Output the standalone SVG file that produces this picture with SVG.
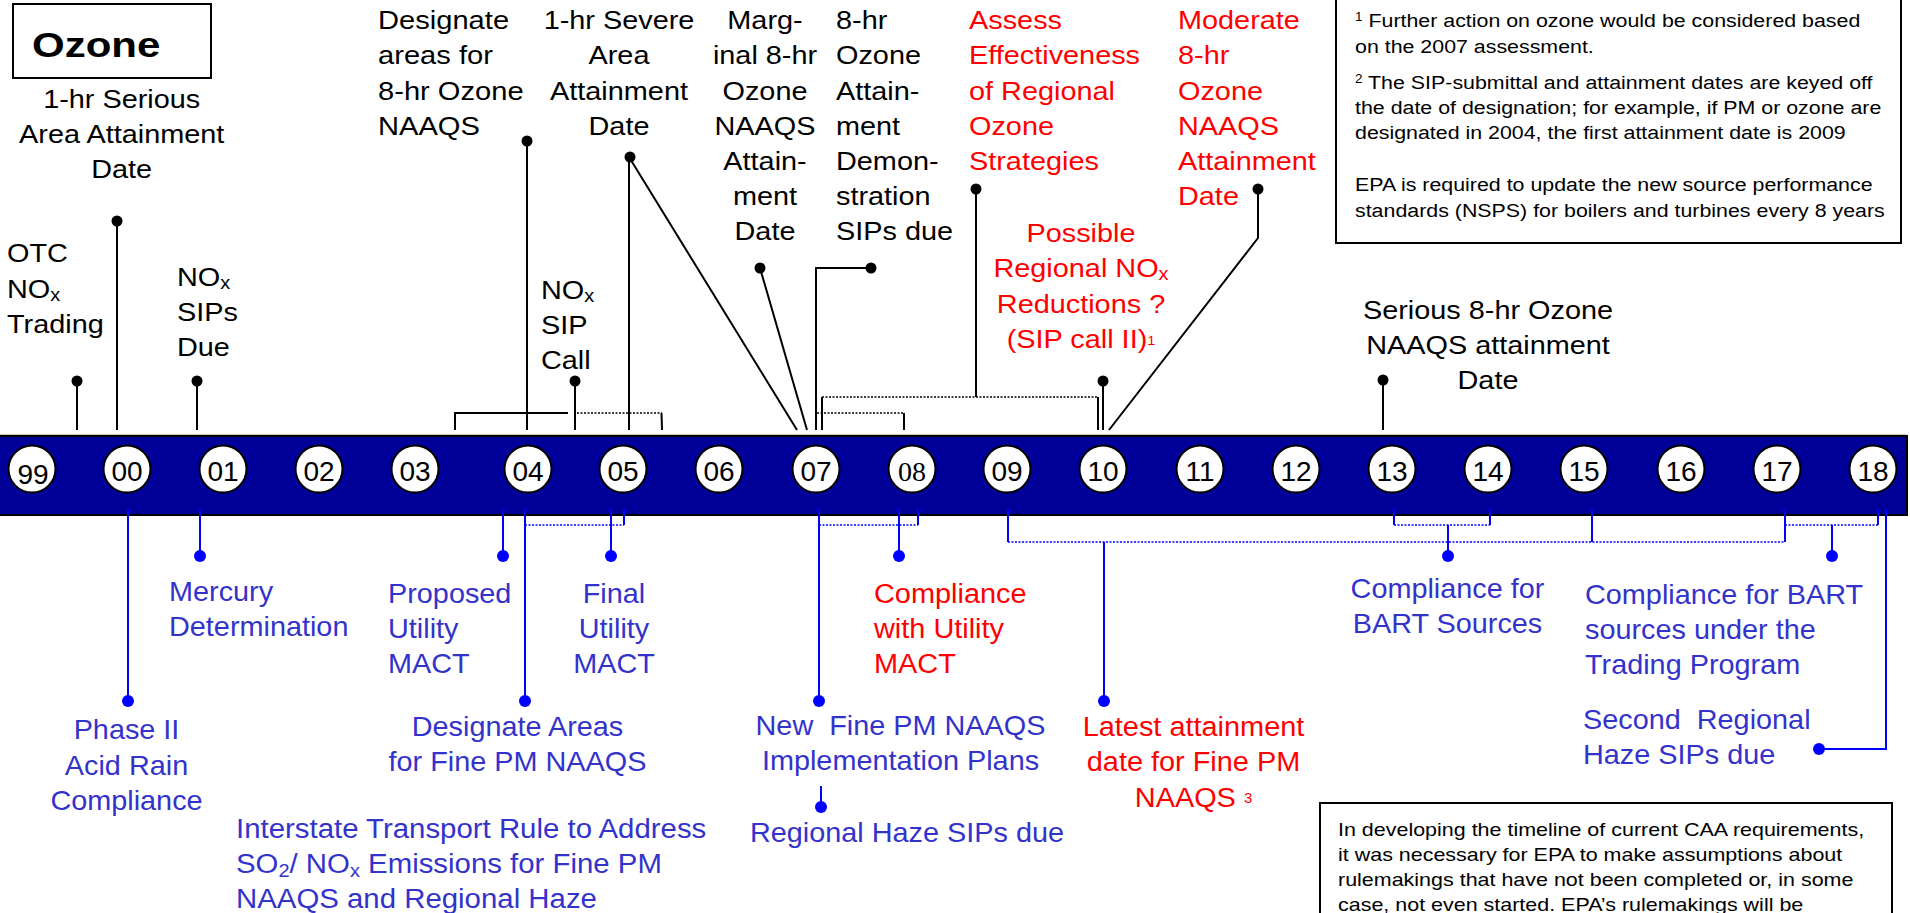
<svg xmlns="http://www.w3.org/2000/svg" width="1910" height="913" viewBox="0 0 1910 913">
<style>
text{font-family:"Liberation Sans",Arial,Helvetica,sans-serif}
.k{fill:#000;font-size:26px}
.r{fill:#f00;font-size:26px}
.rb{fill:#f00;font-size:27px}
.b{fill:#33c;font-size:28px}
.n{fill:#000;font-size:19px}
.yr{fill:#000;font-size:28px;text-anchor:middle}
.mid{text-anchor:middle}
.ln{stroke:#000;stroke-width:2;fill:none}
.dl{stroke:#000;stroke-width:1.5;stroke-dasharray:2 1.5;fill:none}
.bl{stroke:#00f;stroke-width:2;fill:none}
.bd{stroke:#00f;stroke-width:1.5;stroke-dasharray:2 1.5;fill:none}
.kd{fill:#000}
.bdot{fill:#00f}
.yc{fill:#fff;stroke:#000;stroke-width:2}
.box{fill:#fff;stroke:#000;stroke-width:2}
</style>
<rect width="1910" height="913" fill="#fff"/>

<!-- title -->
<g id="title">
<rect class="box" x="13" y="4" width="198" height="74"/>
<text x="0" y="0" transform="translate(32,57.3) scale(1.2,1)" style="font-size:35px;font-weight:bold;fill:#000">Ozone</text>
</g>

<!-- notes -->
<g id="note-top">
<rect class="box" x="1336" y="-5" width="565" height="248"/>
<text class="n" transform="translate(1355,26.7) scale(1.125,1)"><tspan x="0" y="0"><tspan font-size="12" dy="-6">1</tspan><tspan dy="6"> Further action on ozone would be considered based</tspan></tspan><tspan x="0" y="26">on the 2007 assessment.</tspan><tspan x="0" y="62.6"><tspan font-size="12" dy="-6">2</tspan><tspan dy="6"> The SIP-submittal and attainment dates are keyed off</tspan></tspan><tspan x="0" y="87.6">the date of designation; for example, if PM or ozone are</tspan><tspan x="0" y="112.6">designated in 2004, the first attainment date is 2009</tspan><tspan x="0" y="164">EPA is required to update the new source performance</tspan><tspan x="0" y="190">standards (NSPS) for boilers and turbines every 8 years</tspan></text>
</g>
<g id="note-bottom">
<rect class="box" x="1320" y="803" width="572" height="120"/>
<text class="n" transform="translate(1338,835.5) scale(1.13,1)"><tspan x="0" y="0">In developing the timeline of current CAA requirements,</tspan><tspan x="0" y="25.5">it was necessary for EPA to make assumptions about</tspan><tspan x="0" y="51">rulemakings that have not been completed or, in some</tspan><tspan x="0" y="75.5">case, not even started.  EPA’s rulemakings will be</tspan></text>
</g>

<!-- timeline bar -->
<g id="timeline">
<line x1="0" y1="434.5" x2="1907" y2="434.5" stroke="#c8c8c8" stroke-width="1"/>
<rect x="-2" y="436" width="1909" height="79" fill="#000099" stroke="#000" stroke-width="2"/>
<g id="y99"><circle class="yc" cx="32" cy="469" r="23.5"/><text class="yr" x="33" y="484">99</text></g>
<g id="y00"><circle class="yc" cx="127" cy="469" r="23.5"/><text class="yr" x="127" y="481">00</text></g>
<g id="y01"><circle class="yc" cx="223" cy="469" r="23.5"/><text class="yr" x="223" y="481">01</text></g>
<g id="y02"><circle class="yc" cx="319" cy="469" r="23.5"/><text class="yr" x="319" y="481">02</text></g>
<g id="y03"><circle class="yc" cx="415" cy="469" r="23.5"/><text class="yr" x="415" y="481">03</text></g>
<g id="y04"><circle class="yc" cx="528" cy="469" r="23.5"/><text class="yr" x="528" y="481">04</text></g>
<g id="y05"><circle class="yc" cx="623" cy="469" r="23.5"/><text class="yr" x="623" y="481">05</text></g>
<g id="y06"><circle class="yc" cx="719" cy="469" r="23.5"/><text class="yr" x="719" y="481">06</text></g>
<g id="y07"><circle class="yc" cx="816" cy="469" r="23.5"/><text class="yr" x="816" y="481">07</text></g>
<g id="y08"><circle class="yc" cx="912" cy="469" r="23.5"/><text class="yr" x="912" y="481" style="font-family:'Liberation Serif',serif">08</text></g>
<g id="y09"><circle class="yc" cx="1007" cy="469" r="23.5"/><text class="yr" x="1007" y="481">09</text></g>
<g id="y10"><circle class="yc" cx="1103" cy="469" r="23.5"/><text class="yr" x="1103" y="481">10</text></g>
<g id="y11"><circle class="yc" cx="1200" cy="469" r="23.5"/><text class="yr" x="1200" y="481">11</text></g>
<g id="y12"><circle class="yc" cx="1296" cy="469" r="23.5"/><text class="yr" x="1296" y="481">12</text></g>
<g id="y13"><circle class="yc" cx="1392" cy="469" r="23.5"/><text class="yr" x="1392" y="481">13</text></g>
<g id="y14"><circle class="yc" cx="1488" cy="469" r="23.5"/><text class="yr" x="1488" y="481">14</text></g>
<g id="y15"><circle class="yc" cx="1584" cy="469" r="23.5"/><text class="yr" x="1584" y="481">15</text></g>
<g id="y16"><circle class="yc" cx="1681" cy="469" r="23.5"/><text class="yr" x="1681" y="481">16</text></g>
<g id="y17"><circle class="yc" cx="1777" cy="469" r="23.5"/><text class="yr" x="1777" y="481">17</text></g>
<g id="y18"><circle class="yc" cx="1873" cy="469" r="23.5"/><text class="yr" x="1873" y="481">18</text></g>
</g>

<!-- connectors -->
<g id="connectors">
<!-- black, above bar -->
<path class="ln" d="M77 381V430M117 221V430M197 381V430M527 141V430M575 381V430M629 157V430M629 157L797 430M760 268L807 430M871 268H816V430M976 189V397M1103 381V430M1258 189V238L1109 430M1383 380V430"/>
<path class="ln" d="M455 430V413H568"/>
<path class="dl" d="M577 413H662"/>
<path class="ln" d="M661.5 413L662 430"/>
<path class="dl" d="M817 413H904"/>
<path class="ln" d="M904 413V430"/>
<path class="dl" d="M822 397H1098"/>
<path class="ln" d="M822 397V430M1098 397V430"/>
<g class="kd">
<circle cx="77" cy="381" r="5.5"/><circle cx="117" cy="221" r="5.5"/><circle cx="197" cy="381" r="5.5"/>
<circle cx="527" cy="141" r="5.5"/><circle cx="575" cy="381" r="5.5"/><circle cx="630" cy="157" r="5.5"/>
<circle cx="760" cy="268" r="5.5"/><circle cx="871" cy="268" r="5.5"/><circle cx="976" cy="189" r="5.5"/>
<circle cx="1103" cy="381" r="5.5"/><circle cx="1258" cy="189" r="5.5"/><circle cx="1383" cy="380" r="5.5"/>
</g>
<!-- blue, below bar -->
<path class="bl" d="M128 509V701M200 509V556M503 509V556M525 509V701M624 509V525M611 509V556M819 509V701M918 509V525M899 509V556M821 786V807M1008 509V542M1592 509V542M1785 509V542M1104 542V701M1394 509V525M1490 509V525M1448 525V556M1878 509V525M1832 525V556M1886 509V749H1819"/>
<path class="bd" d="M525 525H624M819 525H918M1008 542H1785M1394 525H1490M1785 525H1879"/>
<g class="bdot">
<circle cx="128" cy="701" r="6"/><circle cx="200" cy="556" r="6"/><circle cx="503" cy="556" r="6"/>
<circle cx="525" cy="701" r="6"/><circle cx="611" cy="556" r="6"/><circle cx="819" cy="701" r="6"/>
<circle cx="899" cy="556" r="6"/><circle cx="821" cy="807" r="6"/><circle cx="1104" cy="701" r="6"/>
<circle cx="1448" cy="556" r="6"/><circle cx="1832" cy="556" r="6"/><circle cx="1819" cy="749" r="6"/>
</g>
</g>

<!-- upper nodes -->
<g id="n-1hr-serious"><text class="k mid" transform="translate(121.7,108) scale(1.11,1)"><tspan x="0" y="0">1-hr Serious</tspan><tspan x="0" y="35">Area Attainment</tspan><tspan x="0" y="70">Date</tspan></text></g>
<g id="n-otc"><text class="k" transform="translate(7,262) scale(1.11,1)"><tspan x="0" y="0">OTC</tspan><tspan x="0" y="36">NO<tspan font-size="18" dy="3">x</tspan></tspan><tspan x="0" y="71">Trading</tspan></text></g>
<g id="n-nox-sips"><text class="k" transform="translate(177,286) scale(1.11,1)"><tspan x="0" y="0">NO<tspan font-size="18" dy="3">x</tspan></tspan><tspan x="0" y="35">SIPs</tspan><tspan x="0" y="70">Due</tspan></text></g>
<g id="n-designate-8hr"><text class="k" transform="translate(378,29) scale(1.12,1)"><tspan x="0" y="0">Designate</tspan><tspan x="0" y="35.3">areas for</tspan><tspan x="0" y="71">8-hr Ozone</tspan><tspan x="0" y="106">NAAQS</tspan></text></g>
<g id="n-nox-sip-call"><text class="k" transform="translate(541,299) scale(1.11,1)"><tspan x="0" y="0">NO<tspan font-size="18" dy="3">x</tspan></tspan><tspan x="0" y="35">SIP</tspan><tspan x="0" y="70">Call</tspan></text></g>
<g id="n-1hr-severe"><text class="k mid" transform="translate(619,29) scale(1.11,1)"><tspan x="0" y="0">1-hr Severe</tspan><tspan x="0" y="35.3">Area</tspan><tspan x="0" y="71">Attainment</tspan><tspan x="0" y="106">Date</tspan></text></g>
<g id="n-marginal"><text class="k mid" transform="translate(765,29) scale(1.11,1)"><tspan x="0" y="0">Marg-</tspan><tspan x="0" y="35.5">inal 8-hr</tspan><tspan x="0" y="71">Ozone</tspan><tspan x="0" y="106">NAAQS</tspan><tspan x="0" y="141">Attain-</tspan><tspan x="0" y="176">ment</tspan><tspan x="0" y="211">Date</tspan></text></g>
<g id="n-8hr-demo"><text class="k" transform="translate(836,29) scale(1.11,1)"><tspan x="0" y="0">8-hr</tspan><tspan x="0" y="35.5">Ozone</tspan><tspan x="0" y="71">Attain-</tspan><tspan x="0" y="106">ment</tspan><tspan x="0" y="141">Demon-</tspan><tspan x="0" y="176">stration</tspan><tspan x="0" y="211">SIPs due</tspan></text></g>
<g id="n-assess"><text class="r" transform="translate(969,29) scale(1.11,1)"><tspan x="0" y="0">Assess</tspan><tspan x="0" y="35.5">Effectiveness</tspan><tspan x="0" y="71">of Regional</tspan><tspan x="0" y="106">Ozone</tspan><tspan x="0" y="141">Strategies</tspan></text></g>
<g id="n-moderate"><text class="r" transform="translate(1178,29) scale(1.11,1)"><tspan x="0" y="0">Moderate</tspan><tspan x="0" y="35.5">8-hr</tspan><tspan x="0" y="71">Ozone</tspan><tspan x="0" y="106">NAAQS</tspan><tspan x="0" y="141">Attainment</tspan><tspan x="0" y="176">Date</tspan></text></g>
<g id="n-possible"><text class="r mid" transform="translate(1081,241.7) scale(1.11,1)"><tspan x="0" y="0">Possible</tspan><tspan x="0" y="35.3">Regional NO<tspan font-size="18" dy="3">x</tspan></tspan><tspan x="0" y="71.3">Reductions ?</tspan><tspan x="0" y="106.3">(SIP call II)<tspan font-size="13" dy="-3">1</tspan></tspan></text></g>
<g id="n-serious-8hr"><text class="k mid" transform="translate(1488,319) scale(1.11,1)"><tspan x="0" y="0">Serious 8-hr Ozone</tspan><tspan x="0" y="35">NAAQS attainment</tspan><tspan x="0" y="70">Date</tspan></text></g>

<!-- lower nodes -->
<g id="n-phase2"><text class="b mid" transform="translate(126.5,739) scale(1.03,1)"><tspan x="0" y="0">Phase II</tspan><tspan x="0" y="36">Acid Rain</tspan><tspan x="0" y="71">Compliance</tspan></text></g>
<g id="n-mercury"><text class="b" transform="translate(169,601) scale(1.03,1)"><tspan x="0" y="0">Mercury</tspan><tspan x="0" y="35">Determination</tspan></text></g>
<g id="n-proposed"><text class="b" transform="translate(388,603) scale(1.03,1)"><tspan x="0" y="0">Proposed</tspan><tspan x="0" y="35">Utility</tspan><tspan x="0" y="70">MACT</tspan></text></g>
<g id="n-designate-pm"><text class="b mid" transform="translate(517.5,736) scale(1.03,1)"><tspan x="0" y="0">Designate Areas</tspan><tspan x="0" y="35">for Fine PM NAAQS</tspan></text></g>
<g id="n-final"><text class="b mid" transform="translate(614,603) scale(1.03,1)"><tspan x="0" y="0">Final</tspan><tspan x="0" y="35">Utility</tspan><tspan x="0" y="70">MACT</tspan></text></g>
<g id="n-interstate"><text class="b" transform="translate(236,838) scale(1.05,1)"><tspan x="0" y="0">Interstate Transport Rule to Address</tspan><tspan x="0" y="35">SO<tspan font-size="19" dy="4">2</tspan><tspan dy="-4">/ NO</tspan><tspan font-size="19" dy="4">x</tspan><tspan dy="-4"> Emissions for Fine PM</tspan></tspan><tspan x="0" y="70">NAAQS and Regional Haze</tspan></text></g>
<g id="n-new-pm"><text class="b mid" transform="translate(900.5,735) scale(1.03,1)"><tspan x="0" y="0">New&#160; Fine PM NAAQS</tspan><tspan x="0" y="35">Implementation Plans</tspan></text></g>
<g id="n-haze"><text class="b mid" transform="translate(907,842) scale(1.03,1)">Regional Haze SIPs due</text></g>
<g id="n-compliance-mact"><text class="rb" transform="translate(874,603) scale(1.07,1)"><tspan x="0" y="0">Compliance</tspan><tspan x="0" y="35">with Utility</tspan><tspan x="0" y="70">MACT</tspan></text></g>
<g id="n-latest"><text class="rb mid" transform="translate(1193.5,736) scale(1.07,1)"><tspan x="0" y="0">Latest attainment</tspan><tspan x="0" y="35">date for Fine PM</tspan><tspan x="0" y="70.7">NAAQS <tspan font-size="14" dy="-4">3</tspan></tspan></text></g>
<g id="n-bart"><text class="b mid" transform="translate(1447.5,598) scale(1.03,1)"><tspan x="0" y="0">Compliance for</tspan><tspan x="0" y="35">BART Sources</tspan></text></g>
<g id="n-bart-trading"><text class="b" transform="translate(1585,604) scale(1.03,1)"><tspan x="0" y="0">Compliance for BART</tspan><tspan x="0" y="35">sources under the</tspan><tspan x="0" y="70">Trading Program</tspan></text></g>
<g id="n-second-haze"><text class="b" transform="translate(1583,729) scale(1.03,1)"><tspan x="0" y="0">Second&#160; Regional</tspan><tspan x="0" y="35">Haze SIPs due</tspan></text></g>
</svg>
